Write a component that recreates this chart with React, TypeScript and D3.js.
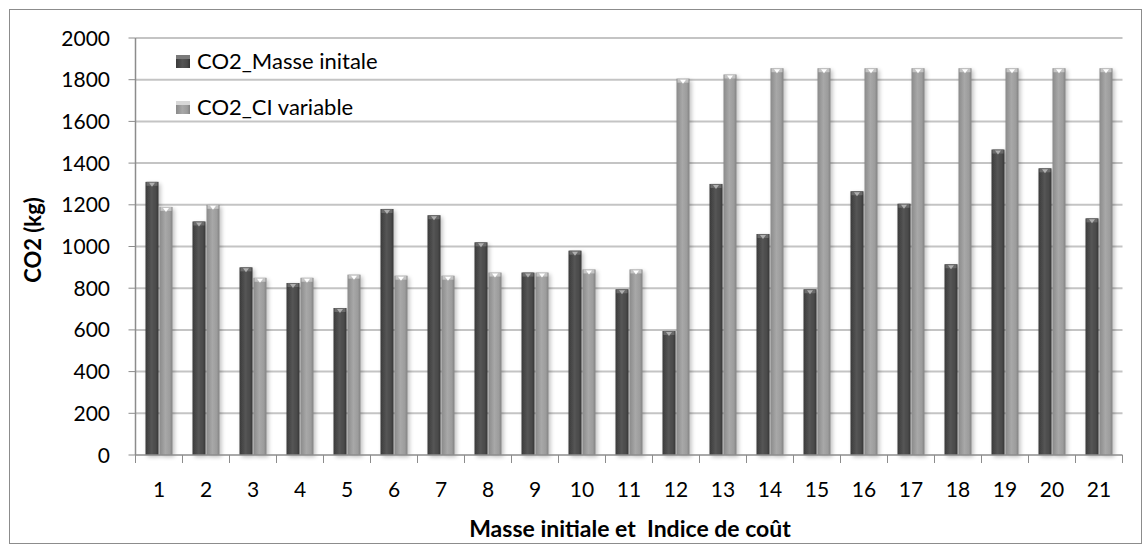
import React from "react";
import * as d3 from "d3";

const categories = ["1","2","3","4","5","6","7","8","9","10","11","12","13","14","15","16","17","18","19","20","21"];
const masseInitiale = [1310,1120,900,825,705,1180,1150,1020,875,980,795,595,1300,1060,795,1265,1205,915,1465,1375,1135];
const ciVariable = [1190,1200,850,850,865,860,860,875,875,890,890,1805,1825,1855,1855,1855,1855,1855,1855,1855,1855];
const yTicks = [0,200,400,600,800,1000,1200,1400,1600,1800,2000];
const seriesNames = ["CO2_Masse initale","CO2_CI variable"];

const W = 1143, H = 544;
const left = 135.5, right = 1122.5, top = 38, bottom = 455;
const font = "Lato, 'Open Sans', sans-serif";
const fs = 21;

export default function App() {
  const x = d3.scaleBand<string>().domain(categories).range([left, right]).paddingInner(0).paddingOuter(0);
  const y = d3.scaleLinear().domain([0, 2000]).range([bottom, top]);
  const bw = 13;
  const series = [masseInitiale, ciVariable];
  const grads = ["gDark", "gLight"];
  return (
    <svg width={W} height={H} style={{ position: "absolute", left: 0, top: 0 }}>
      <defs>
        <linearGradient id="gDark" x1="0" x2="1" y1="0" y2="0">
          <stop offset="0" stopColor="#3a3a3a" />
          <stop offset="0.45" stopColor="#555555" />
          <stop offset="0.8" stopColor="#4a4a4a" />
          <stop offset="1" stopColor="#333333" />
        </linearGradient>
        <linearGradient id="gLight" x1="0" x2="1" y1="0" y2="0">
          <stop offset="0" stopColor="#8a8a8a" />
          <stop offset="0.45" stopColor="#a8a8a8" />
          <stop offset="0.8" stopColor="#9c9c9c" />
          <stop offset="1" stopColor="#808080" />
        </linearGradient>
        <filter id="sh" x="-50%" y="-5%" width="200%" height="110%">
          <feGaussianBlur in="SourceAlpha" stdDeviation="2" />
          <feOffset dx="2" dy="2" result="b" />
          <feComponentTransfer><feFuncA type="linear" slope="0.25" /></feComponentTransfer>
          <feMerge><feMergeNode /><feMergeNode in="SourceGraphic" /></feMerge>
        </filter>
      </defs>
      <rect x={9.5} y={9.5} width={1132} height={534} fill="#fff" stroke="#8c8c8c" strokeWidth={1} />
      {yTicks.map((t) => (
        <g key={t}>
          {t > 0 && <line x1={left} x2={right} y1={y(t)} y2={y(t)} stroke="#c4c4c4" strokeWidth={2} />}
          <line x1={left - 7} x2={left} y1={y(t)} y2={y(t)} stroke="#8c8c8c" strokeWidth={1} />
          <text x={110} y={y(t) + 7.5} textAnchor="end" fontFamily={font} fontSize={fs} fill="#000">{t}</text>
        </g>
      ))}
      {categories.map((c, i) => {
        const cx = (x(c) as number) + x.bandwidth() / 2;
        return (
          <g key={c}>
            {series.map((s, k) => {
              const v = s[i];
              const bx = k === 0 ? cx - bw - 0.5 : cx + 0.5;
              const yt = y(v);
              return (
                <g key={k} filter="url(#sh)">
                  <rect x={bx} y={yt} width={bw} height={bottom - yt} fill={`url(#${grads[k]})`} />
                  <rect x={bx + 1} y={yt} width={bw - 2} height={4} fill={k === 0 ? "#6a6a6a" : "#c4c4c4"} />
                  <path d={`M${bx + bw / 2 - 3},${yt + 1} L${bx + bw / 2 + 3},${yt + 1} L${bx + bw / 2},${yt + 5} Z`} fill={k === 0 ? "#b0b0b0" : "#ffffff"} />
                </g>
              );
            })}
            <text x={cx} y={497} textAnchor="middle" fontFamily={font} fontSize={fs} fill="#000">{c}</text>
          </g>
        );
      })}
      <line x1={left} x2={left} y1={top} y2={bottom} stroke="#8c8c8c" strokeWidth={1.5} />
      <line x1={left} x2={right} y1={bottom} y2={bottom} stroke="#8c8c8c" strokeWidth={1.5} />
      {categories.concat(["end"]).map((c, i) => {
        const tx = left + i * x.bandwidth();
        return <line key={c} x1={tx} x2={tx} y1={bottom} y2={bottom + 8} stroke="#8c8c8c" strokeWidth={1} />;
      })}
      {seriesNames.map((n, k) => (
        <g key={n}>
          <rect x={176} y={k === 0 ? 55 : 101} width={14} height={13} fill={`url(#${grads[k]})`} />
          <rect x={176} y={k === 0 ? 55 : 101} width={14} height={4} fill={k === 0 ? "#7a7a7a" : "#d8d8d8"} />
          <text x={197} y={k === 0 ? 69 : 115} fontFamily={font} fontSize={22} fill="#000">{n}</text>
        </g>
      ))}
      <text transform={`translate(41,240) rotate(-90)`} textAnchor="middle" fontFamily={font} fontWeight="bold" fontSize={22} fill="#000">CO2 (kg)</text>
      <text x={630} y={537} textAnchor="middle" fontFamily={font} fontWeight="bold" fontSize={23} fill="#000" style={{ whiteSpace: "pre" }}>Masse initiale et  Indice de coût</text>
    </svg>
  );
}
